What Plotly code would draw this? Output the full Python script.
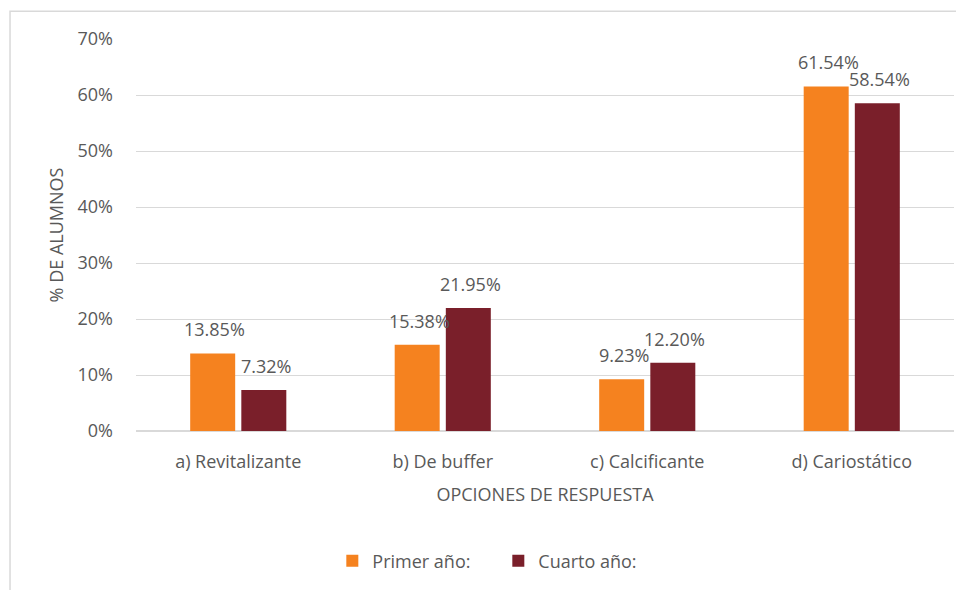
import plotly.graph_objects as go

categories = ["a) Revitalizante", "b) De buffer", "c) Calcificante", "d) Cariostático"]
primer = [13.85, 15.38, 9.23, 61.54]
cuarto = [7.32, 21.95, 12.20, 58.54]
y_ticks = [0, 10, 20, 30, 40, 50, 60, 70]
y_tick_labels = ["0%", "10%", "20%", "30%", "40%", "50%", "60%", "70%"]

text_color = "#595959"
font_family = "Open Sans, sans-serif"
series = [("Primer año:", primer, "#F5821F"), ("Cuarto año:", cuarto, "#7A1F2A")]

# page body has an 8px margin, so the figure is laid out 8px up/left of the picture
W, H = 964, 590
ml, mr, mt, mb = 128, 18, 31, 167
bargap = 0.5
slot = (W - ml - mr) / len(categories) * (1 - bargap) / 2

fig = go.Figure()
for k, (name, vals, color) in enumerate(series):
    fig.add_bar(name=name, x=categories, y=vals,
                marker=dict(color=color, line=dict(width=0)))
    for cat, v in zip(categories, vals):
        fig.add_annotation(x=cat, y=v, text=f"{v:.2f}%", showarrow=False,
                           yanchor="bottom", yshift=10, xshift=(k - 0.5) * slot + 2,
                           font=dict(size=18, color=text_color))

fig.update_layout(
    width=W, height=H,
    margin=dict(l=ml, r=mr, t=mt, b=mb),
    paper_bgcolor="white", plot_bgcolor="white",
    font=dict(family=font_family, color=text_color, size=18),
    barmode="group", bargap=bargap, bargroupgap=0.12,
    legend=dict(orientation="h", x=0.24, xanchor="left", y=-0.332, yanchor="middle",
                entrywidth=121, font=dict(size=18, color=text_color)),
    showlegend=True,
)
fig.update_xaxes(
    automargin=False, showline=False, ticks="", tickfont=dict(size=18, color=text_color),
    ticklabelstandoff=18,
    title=dict(text="OPCIONES DE RESPUESTA", font=dict(size=18, color=text_color), standoff=16),
)
fig.update_yaxes(
    automargin=False, range=[0, 70], tickvals=y_ticks, ticktext=y_tick_labels, showgrid=True,
    gridcolor="#D9D9D9", gridwidth=1, zeroline=True, zerolinecolor="#D9D9D9",
    tickfont=dict(size=18, color=text_color), ticks="", ticklabelstandoff=22,
    title=dict(text="% DE ALUMNOS", font=dict(size=18, color=text_color), standoff=9),
)
# outer chart border
fig.add_shape(type="rect", xref="paper", yref="paper",
              x0=-0.154, x1=1.05, y0=-0.5, y1=1.071,
              line=dict(color="#D9D9D9", width=1.5), fillcolor="rgba(0,0,0,0)", layer="below")

fig.write_html("out.html")
